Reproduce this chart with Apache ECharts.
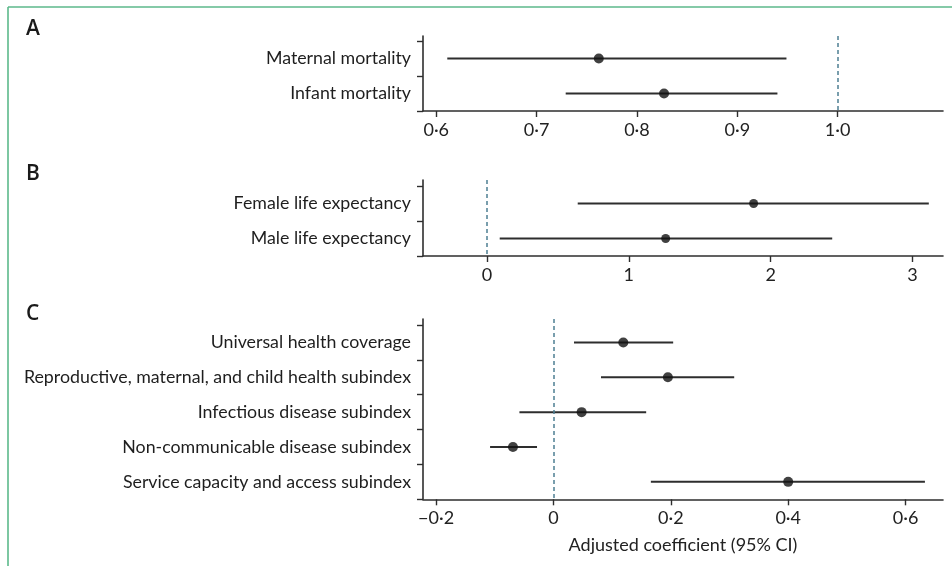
<!DOCTYPE html>
<html>
<head>
<meta charset="utf-8">
<script src="https://cdn.jsdelivr.net/npm/echarts@6/dist/echarts.min.js"></script>
<style>
html,body{margin:0;padding:0;background:#fff;}
#c{width:952px;height:566px;}
</style>
</head>
<body>
<div id="c"></div>
<script>
// ---- data ----
const catA = ['Maternal mortality', 'Infant mortality'];
const estA = [0.762, 0.827];
const loA = [0.611, 0.729];
const hiA = [0.949, 0.940];
const ticksA = [0.6, 0.7, 0.8, 0.9, 1.0];
const refA = 1.0;

const catB = ['Female life expectancy', 'Male life expectancy'];
const estB = [1.88, 1.26];
const loB = [0.64, 0.09];
const hiB = [3.115, 2.434];
const ticksB = [0, 1, 2, 3];
const refB = 0;

const catC = ['Universal health coverage', 'Reproductive, maternal, and child health subindex',
  'Infectious disease subindex', 'Non-communicable disease subindex', 'Service capacity and access subindex'];
const estC = [0.119, 0.195, 0.048, -0.069, 0.400];
const loC = [0.035, 0.081, -0.058, -0.108, 0.166];
const hiC = [0.204, 0.308, 0.158, -0.028, 0.633];
const ticksC = [-0.2, 0, 0.2, 0.4, 0.6];
const refC = 0;

const panelLetters = ['A', 'B', 'C'];
const xTitle = 'Adjusted coefficient (95% CI)';

// ---- layout ----
const FONT = 'Lato, "Open Sans", sans-serif';
const INK = '#2e2e2e';
const panels = [
  { cats: catA, est: estA, lo: loA, hi: hiA, ticks: ticksA, ref: refA, top: 36, height: 75, extra: 5, xmin: 0.5868, xmax: 1.105, sym: 10,
    fmt: v => v.toFixed(1).replace('.', '·') },
  { cats: catB, est: estB, lo: loB, hi: hiB, ticks: ticksB, ref: refB, top: 180, height: 76, extra: 6, xmin: -0.4507, xmax: 3.215, sym: 9,
    fmt: v => String(v) },
  { cats: catC, est: estC, lo: loC, hi: hiC, ticks: ticksC, ref: refC, top: 319, height: 180.3, extra: 6, xmin: -0.2223, xmax: 0.6638, sym: 10,
    fmt: v => (Math.abs(v) < 1e-9 ? '0' : v.toFixed(1).replace('.', '·').replace('-', '−')) }
];

const grid = [], xAxis = [], yAxis = [], series = [];
panels.forEach((p, k) => {
  const n = p.cats.length;
  const band = (p.height - p.extra) / n;
  grid.push({ left: 423, right: 9, top: p.top, height: p.height, containLabel: false });
  xAxis.push({
    type: 'value', gridIndex: k, min: p.xmin, max: p.xmax,
    name: k === 2 ? xTitle : '', nameLocation: 'middle', nameGap: 37,
    nameTextStyle: { fontFamily: FONT, fontSize: 18, color: '#222' },
    axisLine: { show: true, onZero: false, lineStyle: { color: INK, width: 1.6 } },
    axisTick: { show: true, length: 6, customValues: p.ticks, lineStyle: { color: INK, width: 1.4 } },
    axisLabel: { customValues: p.ticks, formatter: p.fmt, fontFamily: FONT, fontSize: 18, color: '#222', margin: 10 },
    splitLine: { show: false }
  });
  const tickVals = [];
  for (let i = 0; i <= n; i++) tickVals.push(i);
  const labVals = p.cats.map((c, i) => i + 0.5);
  yAxis.push({
    type: 'value', gridIndex: k, inverse: true, min: -p.extra / band, max: n,
    axisLine: { show: true, onZero: false, lineStyle: { color: INK, width: 1.6 } },
    axisTick: { show: true, length: 6, customValues: tickVals, lineStyle: { color: INK, width: 1.4 } },
    axisLabel: { customValues: labVals, formatter: v => p.cats[Math.floor(v)] || '', fontFamily: FONT, fontSize: 17.8, color: '#1e1e1e', margin: 12 },
    splitLine: { show: false }
  });
  series.push({
    type: 'custom', xAxisIndex: k, yAxisIndex: k, silent: true,
    data: p.lo.map((l, i) => [l, p.hi[i], i + 0.5]),
    encode: { x: [0, 1], y: 2 },
    renderItem: (params, api) => {
      const a = api.coord([api.value(0), api.value(2)]);
      const b = api.coord([api.value(1), api.value(2)]);
      return { type: 'line', shape: { x1: a[0], y1: a[1], x2: b[0], y2: b[1] }, style: { stroke: INK, lineWidth: 2 } };
    }
  });
  series.push({
    type: 'scatter', xAxisIndex: k, yAxisIndex: k, silent: true,
    data: p.est.map((v, i) => [v, i + 0.5]),
    symbol: 'circle', symbolSize: p.sym, itemStyle: { color: '#111' }, z: 5,
    markLine: {
      silent: true, symbol: 'none', label: { show: false },
      lineStyle: { type: [4, 3], color: '#4d7f92', width: 1.5 },
      data: [{ xAxis: p.ref }]
    }
  });
});

const letterTops = [20, 165, 305];
const graphic = [
  { type: 'line', shape: { x1: 8, y1: 7, x2: 952, y2: 7 }, style: { stroke: '#5cb98b', lineWidth: 1.6 } },
  { type: 'line', shape: { x1: 8, y1: 7, x2: 8, y2: 566 }, style: { stroke: '#5cb98b', lineWidth: 1.6 } }
].concat(panelLetters.map((t, i) => ({
  type: 'text', left: 26, top: letterTops[i] - 1,
  style: { text: t, font: '600 21px "Open Sans", sans-serif', fill: '#1a1a1a' }
})));

const chart = echarts.init(document.getElementById('c'), null, { renderer: 'canvas' });
chart.setOption({
  animation: false,
  backgroundColor: '#fff',
  grid, xAxis, yAxis, series, graphic
});
</script>
</body>
</html>
